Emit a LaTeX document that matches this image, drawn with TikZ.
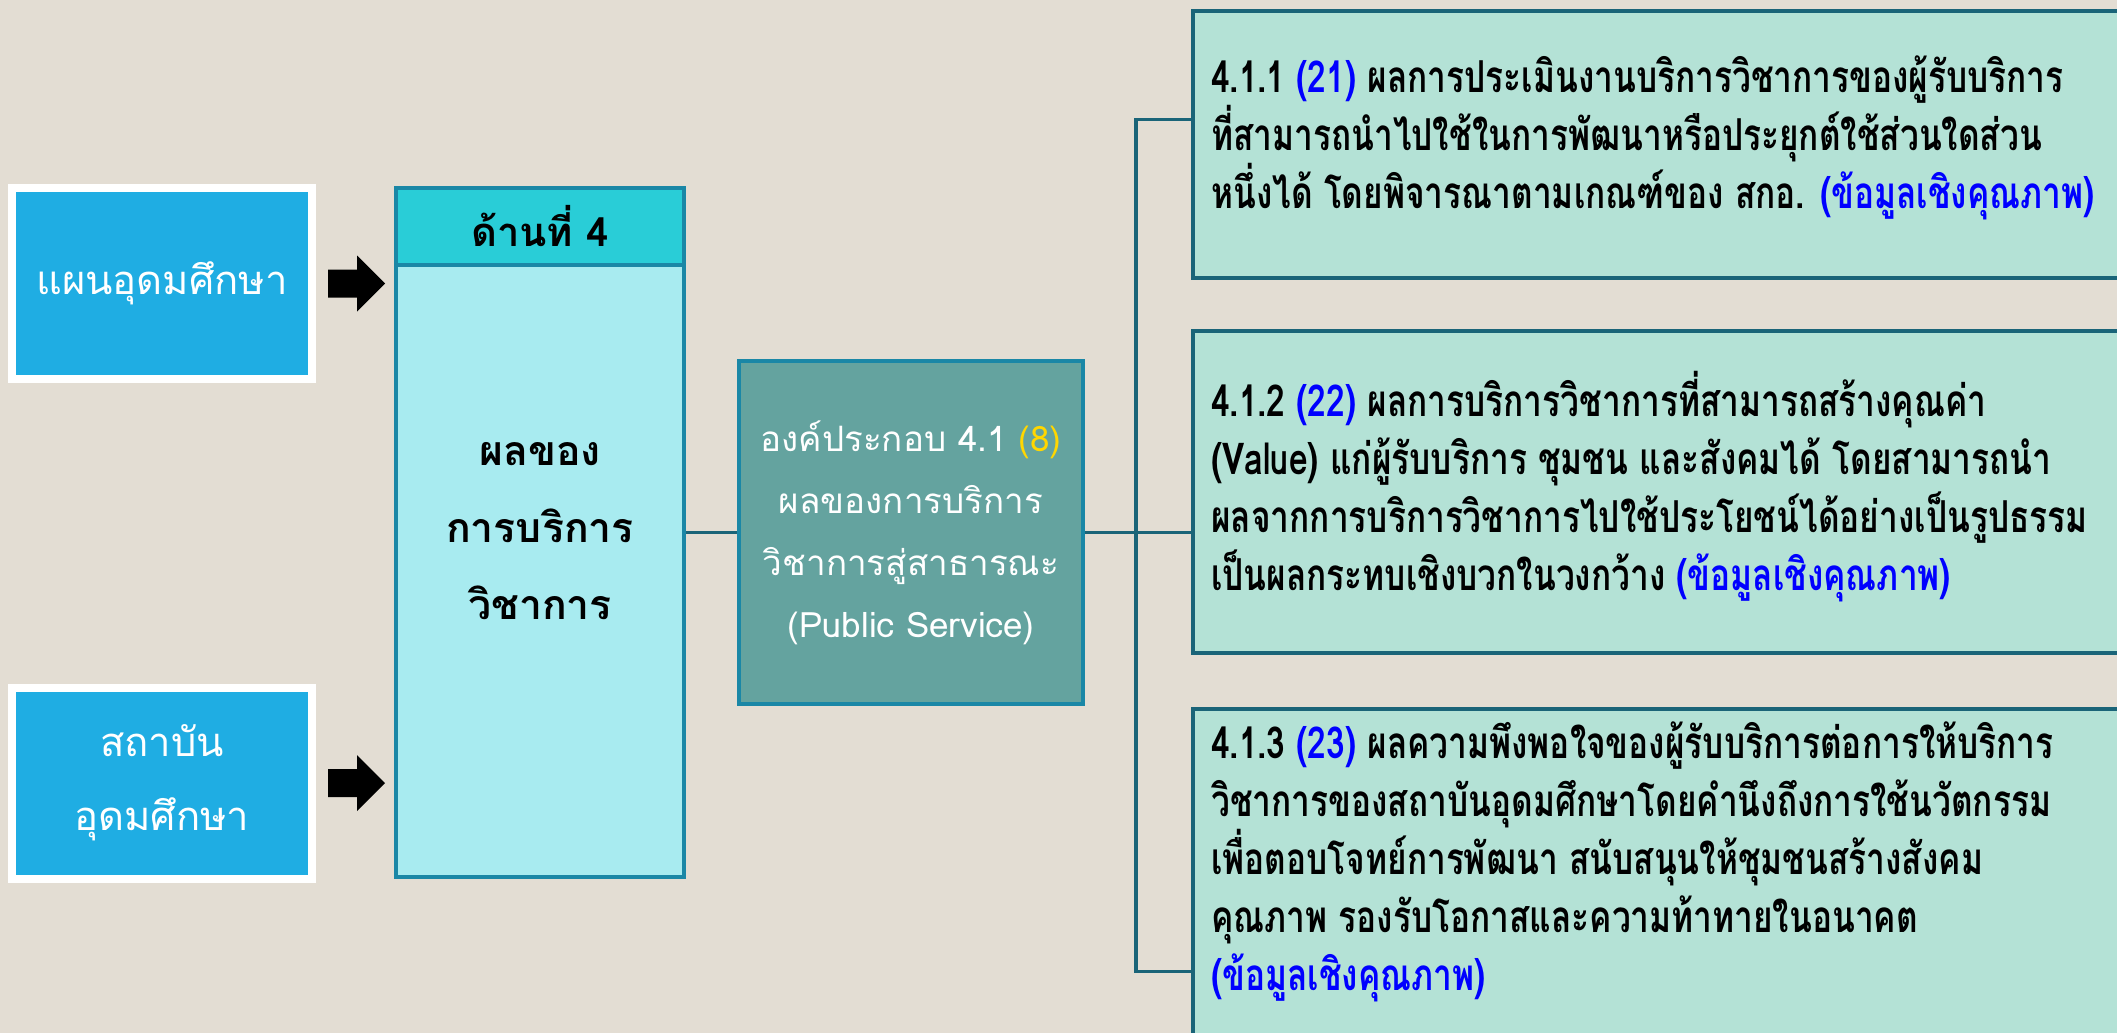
\documentclass[tikz,border=0pt]{standalone}
\usepackage{fontspec}
\newfontfamily\thaifont[Script=Thai]{Loma}
\newfontfamily\thaicond[Script=Thai,FakeStretch=0.76]{Loma}
\usetikzlibrary{calc}

\definecolor{bgbeige}{HTML}{E3DDD3}
\definecolor{srcblue}{HTML}{1FADE3}
\definecolor{hdrcyan}{HTML}{29CDD7}
\definecolor{bodycyan}{HTML}{A8EBF0}
\definecolor{edgeblue}{HTML}{1A87A6}
\definecolor{compteal}{HTML}{64A39F}
\definecolor{itemmint}{HTML}{B4E2D6}
\definecolor{itemedge}{HTML}{1A6478}
\definecolor{numblue}{HTML}{0000FF}
\definecolor{numgold}{HTML}{FFD700}

\def\blockarrow(#1,#2){\fill[black] (#1,#2) ++(0,-14) -- ++(29,0) -- ++(0,-14) -- ++(28,28) -- ++(-28,28) -- ++(0,-14) -- ++(-29,0) -- cycle;}

\tikzset{
  srcbox/.style={fill=srcblue, draw=white, line width=8pt, minimum width=300pt, minimum height=191pt, align=center, text=white, font=\thaifont\fontsize{40}{74}\selectfont},
  hdrbox/.style={fill=hdrcyan, draw=edgeblue, line width=4pt, minimum width=288pt, minimum height=77pt, font=\thaifont\bfseries\fontsize{40}{44}\selectfont},
  bodybox/.style={fill=bodycyan, draw=edgeblue, line width=4pt, minimum width=288pt, minimum height=612pt},
  bodytext/.style={align=center, font=\thaifont\bfseries\fontsize{41}{77}\selectfont},
  compbox/.style={fill=compteal, draw=edgeblue, line width=4pt, minimum width=344pt, minimum height=343pt, align=center, text=white, font=\thaifont\fontsize{35}{62}\selectfont},
  itembox/.style={fill=itemmint, draw=itemedge, line width=4pt, minimum width=940pt, anchor=north west},
  itemtext/.style={anchor=west, inner sep=0pt, align=left, font=\thaicond\bfseries\fontsize{44}{58}\selectfont},
  link/.style={draw=itemedge, line width=3.5pt},
}

\begin{document}
\begin{tikzpicture}[x=1pt,y=-1pt]
		%%%%% START %%%%%
		
		\fill[bgbeige] (0,0) rectangle (2117,1033);
		\useasboundingbox (0,0) rectangle (2117,1033);
		\clip (0,0) rectangle (2117,1033);
		
		\node[srcbox] (plan) at (162,283.5) {แผนอุดมศึกษา};
		\node[srcbox] (inst) at (162,783) {สถาบัน\\อุดมศึกษา};
		
		\blockarrow(328,283.5)
		\blockarrow(328,783)
		
		\node[hdrbox] (side) at (540,226.5) {ด้านที่ 4};
		\node[bodybox] (sidebody) at (540,571) {};
		\node[bodytext] (sidelbl) at (540,531) {ผลของ\\การบริการ\\วิชาการ};
		
		\node[compbox] (comp) at (911,532.5) {องค์ประกอบ 4.1 \textcolor{numgold}{(8)}\\ผลของการบริการ\\วิชาการสู่สาธารณะ\\(Public Service)};
		
		\node[itembox, minimum height=267pt] (item1) at (1191,9) {};
		\node[itembox, minimum height=322pt] (item2) at (1191,329) {};
		\node[itembox, minimum height=340pt] (item3) at (1191,707) {};
		
		\node[itemtext] (txt1) at (1211,138) {4.1.1 \textcolor{numblue}{(21)} ผลการประเมินงานบริการวิชาการของผู้รับบริการ\\ที่สามารถนำไปใช้ในการพัฒนาหรือประยุกต์ใช้ส่วนใดส่วน\\หนึ่งได้ โดยพิจารณาตามเกณฑ์ของ สกอ. \textcolor{numblue}{(ข้อมูลเชิงคุณภาพ)}};
		\node[itemtext] (txt2) at (1211,487) {4.1.2 \textcolor{numblue}{(22)} ผลการบริการวิชาการที่สามารถสร้างคุณค่า\\(Value) แก่ผู้รับบริการ ชุมชน และสังคมได้ โดยสามารถนำ\\ผลจากการบริการวิชาการไปใช้ประโยชน์ได้อย่างเป็นรูปธรรม\\เป็นผลกระทบเชิงบวกในวงกว้าง \textcolor{numblue}{(ข้อมูลเชิงคุณภาพ)}};
		\node[itemtext] (txt3) at (1211,862) {4.1.3 \textcolor{numblue}{(23)} ผลความพึงพอใจของผู้รับบริการต่อการให้บริการ\\วิชาการของสถาบันอุดมศึกษาโดยคำนึงถึงการใช้นวัตกรรม\\เพื่อตอบโจทย์การพัฒนา สนับสนุนให้ชุมชนสร้างสังคม\\คุณภาพ รองรับโอกาสและความท้าทายในอนาคต\\\textcolor{numblue}{(ข้อมูลเชิงคุณภาพ)}};
		
		\coordinate (trunktop) at (1136,119.5);
		\coordinate (trunkbot) at (1136,971.5);
		
		\draw[link] (sidebody.east |- comp.west) -- (comp.west);
		\draw[link] (comp.east) -- (comp.east -| item2.west);
		\draw[link] (item1.west |- trunktop) -- (trunktop) -- (trunkbot) -- (trunkbot -| item3.west);
		
		%%%%% END %%%%%
	\end{tikzpicture}
\end{document}
